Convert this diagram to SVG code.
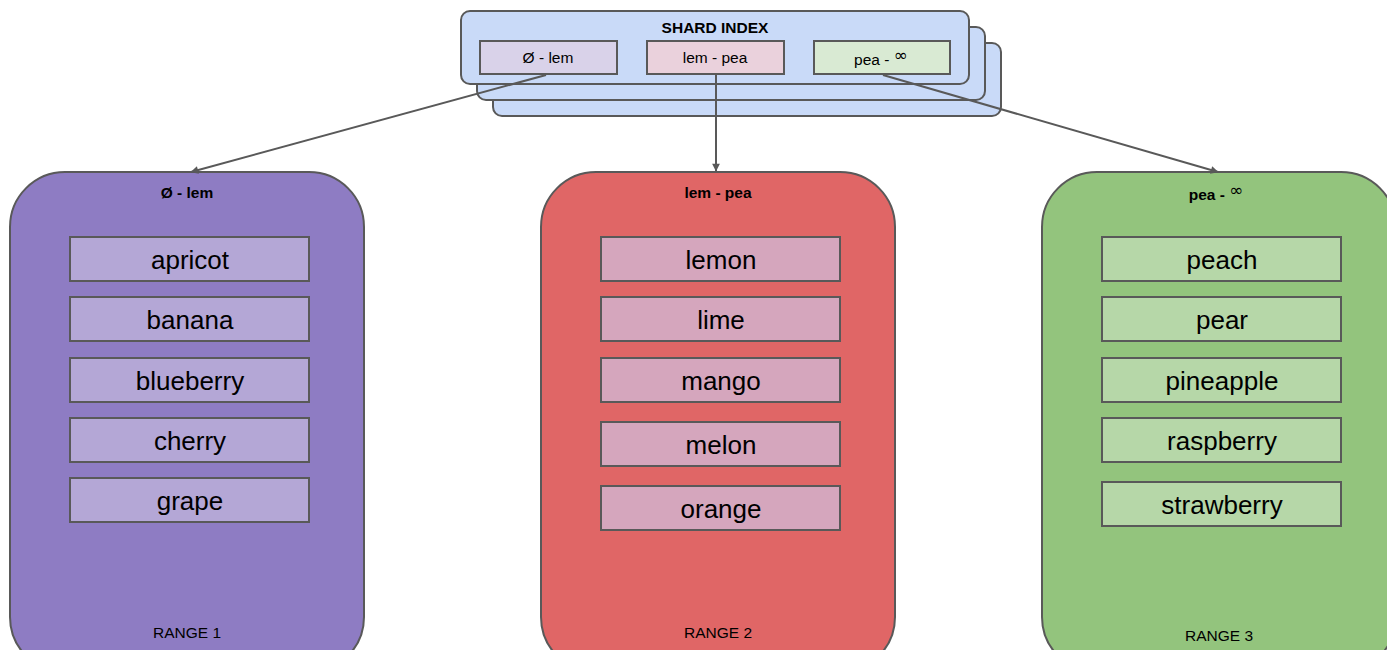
<svg xmlns="http://www.w3.org/2000/svg" width="1387" height="650" viewBox="0 0 1387 650">
  <style>
    text { font-family: "Liberation Sans", Arial, sans-serif; fill: #000; text-anchor: middle; }
    .card { fill: #c9daf8; stroke: #595959; stroke-width: 2; }
    .key { stroke: #595959; stroke-width: 2; }
    .range { stroke: #595959; stroke-width: 2; }
    .item { stroke: #595959; stroke-width: 2; }
    .r1 { fill: #8e7cc3; } .r2 { fill: #e06666; } .r3 { fill: #93c47d; }
    .i1 { fill: #b4a7d6; } .i2 { fill: #d5a6bd; } .i3 { fill: #b6d7a8; }
    .k1 { fill: #d9d2e9; } .k2 { fill: #ead1dc; } .k3 { fill: #d9ead3; }
    .lbl { font-size: 26px; }
    .small { font-size: 15.5px; }
    .bold { font-size: 15.5px; font-weight: bold; }
    .inf { font-family: "DejaVu Sans", sans-serif; font-size: 17px; font-weight: normal; }
    .conn { stroke: #595959; stroke-width: 2; fill: none; marker-end: url(#arrow); }
  </style>
  <defs>
    <marker id="arrow" viewBox="0 0 10 10" refX="9" refY="5" markerWidth="6" markerHeight="6" orient="auto" markerUnits="userSpaceOnUse" overflow="visible">
      <path d="M0,0 L10,5 L0,10 z" fill="#595959" transform="scale(1.3) translate(-2.3,-1.15)"/>
    </marker>
  </defs>

  <!-- stacked shard index cards -->
  <g id="shard-index">
    <rect class="card" x="493" y="43" width="508" height="73" rx="9"/>
    <rect class="card" x="477" y="27" width="508" height="73" rx="9"/>
    <rect class="card" x="461" y="11" width="508" height="73" rx="9"/>
    <text class="bold" x="715" y="33">SHARD INDEX</text>
    <g id="key-1">
      <rect class="key k1" x="480" y="41" width="137" height="33"/>
      <text class="small" x="548" y="63">Ø - lem</text>
    </g>
    <g id="key-2">
      <rect class="key k2" x="647" y="41" width="137" height="33"/>
      <text class="small" x="715" y="63">lem - pea</text>
    </g>
    <g id="key-3">
      <rect class="key k3" x="814" y="41" width="136" height="33"/>
      <text class="small" x="881" y="65">pea - <tspan class="inf" dy="-4">∞</tspan></text>
    </g>
  </g>

  <!-- range 1 -->
  <g id="range-1">
    <rect class="range r1" x="10" y="172" width="354" height="500" rx="55"/>
    <text class="bold" x="187" y="198">Ø - lem</text>
    <rect class="item i1" x="70" y="237" width="239" height="44"/>
    <text class="lbl" x="190" y="269">apricot</text>
    <rect class="item i1" x="70" y="297" width="239" height="44"/>
    <text class="lbl" x="190" y="329">banana</text>
    <rect class="item i1" x="70" y="358" width="239" height="44"/>
    <text class="lbl" x="190" y="390">blueberry</text>
    <rect class="item i1" x="70" y="418" width="239" height="44"/>
    <text class="lbl" x="190" y="450">cherry</text>
    <rect class="item i1" x="70" y="478" width="239" height="44"/>
    <text class="lbl" x="190" y="510">grape</text>
    <text class="small" x="187" y="638">RANGE 1</text>
  </g>

  <!-- range 2 -->
  <g id="range-2">
    <rect class="range r2" x="541" y="172" width="354" height="500" rx="55"/>
    <text class="bold" x="718" y="198">lem - pea</text>
    <rect class="item i2" x="601" y="237" width="239" height="44"/>
    <text class="lbl" x="721" y="269">lemon</text>
    <rect class="item i2" x="601" y="297" width="239" height="44"/>
    <text class="lbl" x="721" y="329">lime</text>
    <rect class="item i2" x="601" y="358" width="239" height="44"/>
    <text class="lbl" x="721" y="390">mango</text>
    <rect class="item i2" x="601" y="422" width="239" height="44"/>
    <text class="lbl" x="721" y="454">melon</text>
    <rect class="item i2" x="601" y="486" width="239" height="44"/>
    <text class="lbl" x="721" y="518">orange</text>
    <text class="small" x="718" y="638">RANGE 2</text>
  </g>

  <!-- range 3 -->
  <g id="range-3">
    <rect class="range r3" x="1042" y="172" width="354" height="500" rx="55"/>
    <text class="bold" x="1216" y="200">pea - <tspan class="inf" dy="-4">∞</tspan></text>
    <rect class="item i3" x="1102" y="237" width="239" height="44"/>
    <text class="lbl" x="1222" y="269">peach</text>
    <rect class="item i3" x="1102" y="297" width="239" height="44"/>
    <text class="lbl" x="1222" y="329">pear</text>
    <rect class="item i3" x="1102" y="358" width="239" height="44"/>
    <text class="lbl" x="1222" y="390">pineapple</text>
    <rect class="item i3" x="1102" y="418" width="239" height="44"/>
    <text class="lbl" x="1222" y="450">raspberry</text>
    <rect class="item i3" x="1102" y="482" width="239" height="44"/>
    <text class="lbl" x="1222" y="514">strawberry</text>
    <text class="small" x="1219" y="641">RANGE 3</text>
  </g>

  <!-- connectors from index keys to ranges -->
  <g id="connectors">
    <line class="conn" x1="546" y1="75" x2="191" y2="172"/>
    <line class="conn" x1="716" y1="75" x2="716" y2="171"/>
    <line class="conn" x1="883" y1="75" x2="1218" y2="172"/>
  </g>
</svg>
